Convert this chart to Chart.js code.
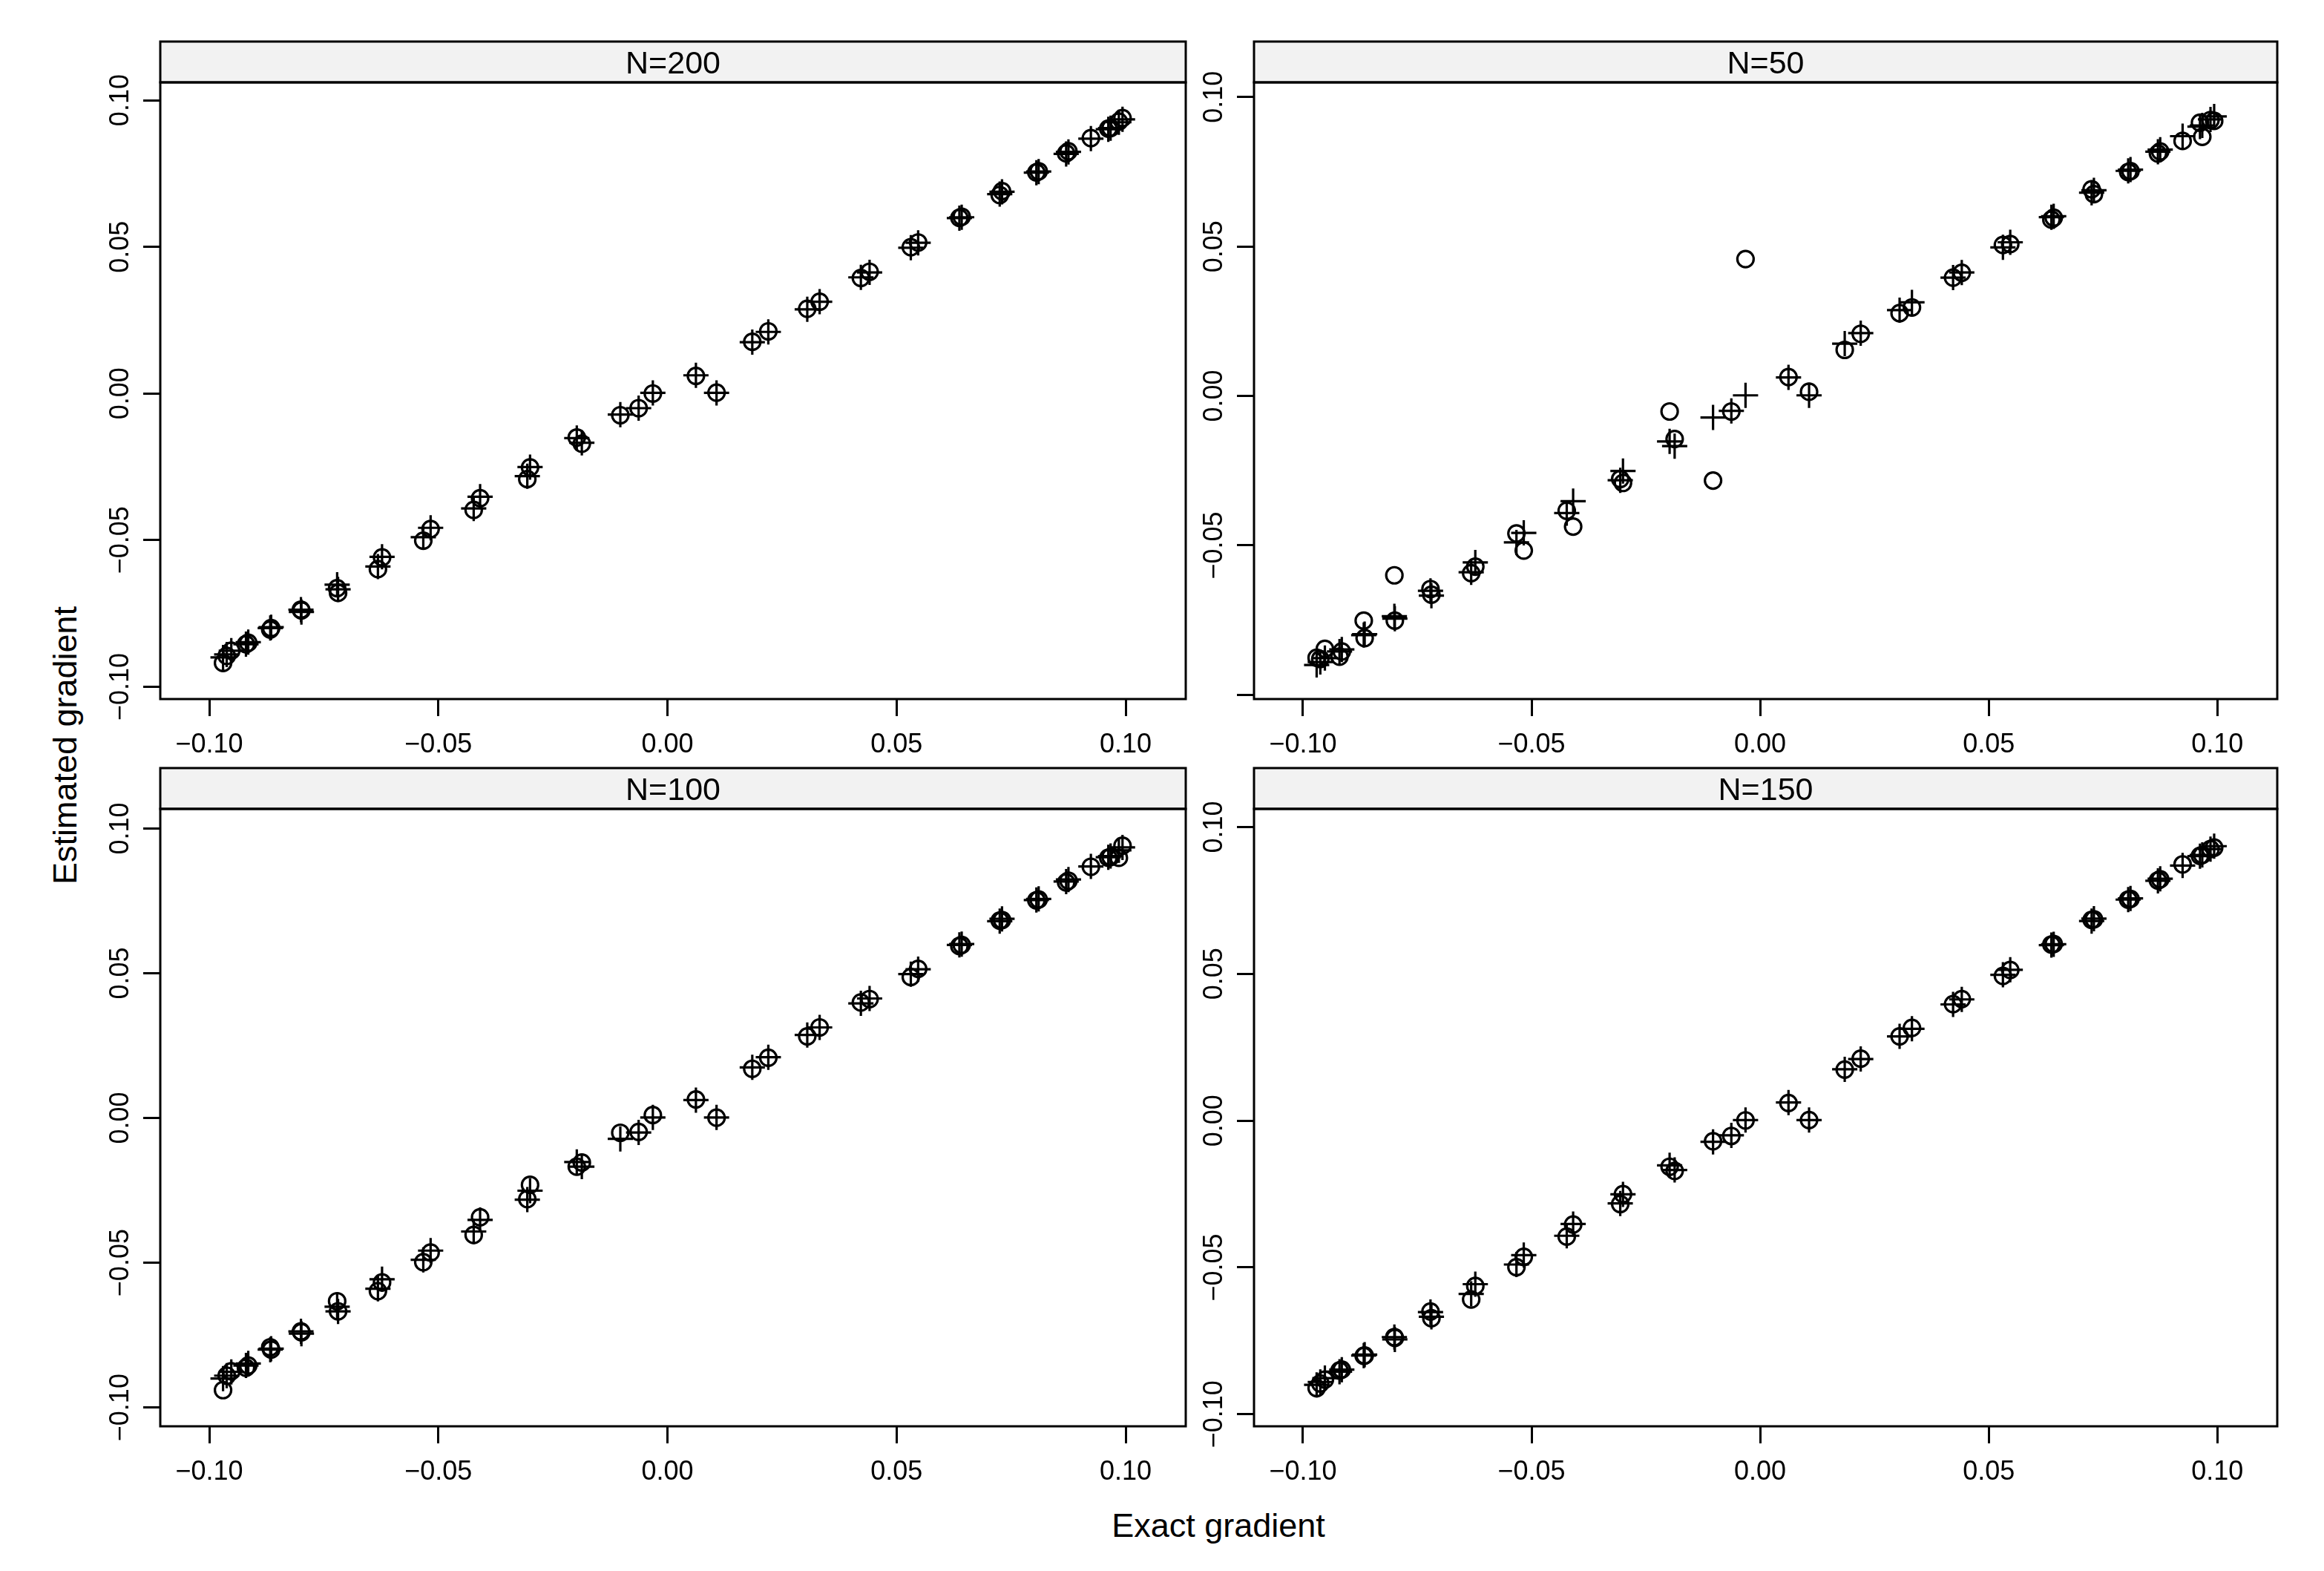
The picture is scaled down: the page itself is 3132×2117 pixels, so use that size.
<!DOCTYPE html>
<html>
<head>
<meta charset="utf-8">
<script src="https://cdn.jsdelivr.net/npm/chart.js@4.4.1/dist/chart.umd.min.js"></script>
<style>
  body { margin: 0; background: #fff; width: 3132px; height: 2117px; position: relative; overflow: hidden; }
  canvas { position: absolute; }
  .lab { position: absolute; font-family: "Liberation Sans", Arial, sans-serif; font-size: 45px; line-height: 45px; color: #000; text-align: center; white-space: nowrap; }
</style>
</head>
<body>
<div class="lab" style="left:1242px; top:2033px; width:800px;">Exact gradient</div>
<div class="lab" style="left:-313px; top:982px; width:800px; transform: rotate(-90deg);">Estimated gradient</div>

<canvas id="c200"></canvas>
<canvas id="c50"></canvas>
<canvas id="c100"></canvas>
<canvas id="c150"></canvas>

<script>
// exact gradient (shared by every panel)
const exactX = [-0.0970, -0.0962, -0.0952, -0.0920, -0.0915, -0.0867, -0.0865, -0.0800, -0.0799, -0.0721,
  -0.0719, -0.0632, -0.0623, -0.0533, -0.0517, -0.0423, -0.0409, -0.0306, -0.0300, -0.0198,
  -0.0187, -0.0103, -0.0063, -0.0032, 0.0062, 0.0107, 0.0185, 0.0220, 0.0305, 0.0332,
  0.0422, 0.0441, 0.0531, 0.0547, 0.0637, 0.0642, 0.0725, 0.0730, 0.0805, 0.0810,
  0.0870, 0.0875, 0.0924, 0.0962, 0.0967, 0.0985, 0.0993];

// "+" estimates
const plusY = [-0.0900, -0.0890, -0.0877, -0.0855, -0.0848, -0.0800, -0.0797, -0.0737, -0.0745, -0.0652,
  -0.0668, -0.0590, -0.0557, -0.0490, -0.0458, -0.0392, -0.0352, -0.0282, -0.0251, -0.0152,
  -0.0168, -0.0072, -0.0050, 0.0002, 0.0062, 0.0002, 0.0175, 0.0210, 0.0287, 0.0313,
  0.0396, 0.0413, 0.0497, 0.0514, 0.0598, 0.0601, 0.0680, 0.0688, 0.0753, 0.0757,
  0.0817, 0.0824, 0.0869, 0.0901, 0.0905, 0.0925, 0.0935];

// "o" estimates, one array per panel
const circN200 = [-0.0919, -0.0895, -0.0877, -0.0855, -0.0850, -0.0805, -0.0800, -0.0737, -0.0740, -0.0664,
  -0.0680, -0.0599, -0.0559, -0.0502, -0.0462, -0.0397, -0.0357, -0.0292, -0.0252, -0.0150,
  -0.0171, -0.0074, -0.0050, 0.0000, 0.0060, 0.0003, 0.0176, 0.0212, 0.0289, 0.0313,
  0.0394, 0.0415, 0.0499, 0.0515, 0.0599, 0.0603, 0.0677, 0.0690, 0.0754, 0.0758,
  0.0819, 0.0826, 0.0871, 0.0903, 0.0905, 0.0927, 0.0939];
const circN50 = [-0.0876, -0.0880, -0.0846, -0.0872, -0.0855, -0.0752, -0.0810, -0.0600, -0.0752, -0.0646,
  -0.0665, -0.0593, -0.0571, -0.0460, -0.0517, -0.0384, -0.0437, -0.0278, -0.0291, -0.0052,
  -0.0144, -0.0283, -0.0052, 0.0458, 0.0063, 0.0014, 0.0154, 0.0208, 0.0277, 0.0296,
  0.0396, 0.0412, 0.0505, 0.0508, 0.0590, 0.0596, 0.0691, 0.0675, 0.0749, 0.0752,
  0.0811, 0.0818, 0.0853, 0.0914, 0.0867, 0.0923, 0.0920];
const circN100 = [-0.0940, -0.0890, -0.0875, -0.0863, -0.0855, -0.0792, -0.0800, -0.0737, -0.0740, -0.0633,
  -0.0668, -0.0598, -0.0568, -0.0498, -0.0465, -0.0404, -0.0343, -0.0280, -0.0231, -0.0168,
  -0.0154, -0.0051, -0.0048, 0.0010, 0.0064, 0.0001, 0.0170, 0.0208, 0.0282, 0.0313,
  0.0399, 0.0411, 0.0487, 0.0515, 0.0594, 0.0598, 0.0682, 0.0684, 0.0752, 0.0755,
  0.0814, 0.0820, 0.0868, 0.0899, 0.0902, 0.0899, 0.0941];
const circN150 = [-0.0911, -0.0895, -0.0882, -0.0851, -0.0848, -0.0801, -0.0800, -0.0737, -0.0740, -0.0650,
  -0.0673, -0.0609, -0.0563, -0.0499, -0.0464, -0.0395, -0.0354, -0.0284, -0.0250, -0.0157,
  -0.0171, -0.0070, -0.0052, 0.0001, 0.0060, 0.0002, 0.0174, 0.0211, 0.0287, 0.0316,
  0.0397, 0.0414, 0.0493, 0.0513, 0.0600, 0.0602, 0.0684, 0.0686, 0.0753, 0.0755,
  0.0818, 0.0822, 0.0873, 0.0902, 0.0905, 0.0925, 0.0930];

const xTicks = [-0.10, -0.05, 0.00, 0.05, 0.10];
const yTicks = [-0.10, -0.05, 0.00, 0.05, 0.10];
const yLabelsN50 = [-0.05, 0.00, 0.05, 0.10];   // -0.10 has a tick but no label

const xLimits = [-0.1107, 0.1131];

// panel frames in page pixels
const panels = [
  { id: "c200", title: "N=200", circ: circN200, ylim: [-0.1042, 0.1061], labels: yTicks,     left: 216,  right: 1598, top: 111,  bottom: 942 },
  { id: "c50",  title: "N=50",  circ: circN50,  ylim: [-0.1014, 0.1049], labels: yLabelsN50, left: 1690, right: 3069, top: 111,  bottom: 942 },
  { id: "c100", title: "N=100", circ: circN100, ylim: [-0.1065, 0.1068], labels: yTicks,     left: 216,  right: 1598, top: 1090, bottom: 1922 },
  { id: "c150", title: "N=150", circ: circN150, ylim: [-0.1041, 0.1062], labels: yTicks,     left: 1690, right: 3069, top: 1090, bottom: 1922 },
];

const STRIP_H = 55;
const Y_AXIS_W = 140;
const X_AXIS_H = 95;
const PAD_TOP = 59;
const PAD_RIGHT = 6;
const FONT = '"Liberation Sans", Arial, sans-serif';

function fmt(v) {
  if (Math.abs(v) < 1e-9) return "0.00";
  return (v < 0 ? "\u2212" : "") + Math.abs(v).toFixed(2);
}

// strip, box frame and rotated y labels (lattice look)
const latticePanel = {
  id: "latticePanel",
  afterDraw(chart, args, opts) {
    const { ctx, chartArea: a } = chart;
    const w = a.right - a.left;
    ctx.save();
    ctx.fillStyle = "#f2f2f2";
    ctx.fillRect(a.left, a.top - STRIP_H, w, STRIP_H);
    ctx.lineWidth = 3;
    ctx.strokeStyle = "#000";
    ctx.strokeRect(a.left, a.top - STRIP_H, w, STRIP_H);
    ctx.strokeRect(a.left, a.top, w, a.bottom - a.top);

    ctx.fillStyle = "#000";
    ctx.font = "43px " + FONT;
    ctx.textAlign = "center";
    ctx.textBaseline = "alphabetic";
    ctx.fillText(opts.title, (a.left + a.right) / 2, a.top - 12);

    const ys = chart.scales.y;
    ctx.font = "36px " + FONT;
    opts.labels.forEach(v => {
      const py = ys.getPixelForValue(v);
      ctx.save();
      ctx.translate(a.left - 43, py);
      ctx.rotate(-Math.PI / 2);
      ctx.fillText(fmt(v), 0, 0);
      ctx.restore();
    });
    ctx.restore();
  }
};

panels.forEach(p => {
  const cv = document.getElementById(p.id);
  const W = (p.right - p.left) + Y_AXIS_W + PAD_RIGHT;
  const H = (p.bottom - p.top) + PAD_TOP + X_AXIS_H;
  cv.width = W;
  cv.height = H;
  cv.style.left = (p.left - Y_AXIS_W) + "px";
  cv.style.top = (p.top - PAD_TOP) + "px";

  new Chart(cv, {
    type: "scatter",
    data: {
      datasets: [
        {
          label: "estimate",
          data: exactX.map((x, i) => ({ x: x, y: p.circ[i] })),
          pointStyle: "circle",
          pointRadius: 11,
          pointBorderWidth: 3.2,
          pointBorderColor: "#000",
          pointBackgroundColor: "rgba(0,0,0,0)",
        },
        {
          label: "reference",
          data: exactX.map((x, i) => ({ x: x, y: plusY[i] })),
          pointStyle: "cross",
          pointRadius: 17,
          pointBorderWidth: 3.2,
          pointBorderColor: "#000",
          pointBackgroundColor: "#000",
        },
      ],
    },
    options: {
      responsive: false,
      animation: false,
      devicePixelRatio: 1,
      layout: { autoPadding: false, padding: { top: PAD_TOP, right: PAD_RIGHT, left: 0, bottom: 0 } },
      plugins: {
        legend: { display: false },
        tooltip: { enabled: false },
        latticePanel: { title: p.title, labels: p.labels },
      },
      scales: {
        x: {
          type: "linear",
          position: "bottom",
          min: xLimits[0],
          max: xLimits[1],
          afterBuildTicks: s => { s.ticks = xTicks.map(v => ({ value: v })); },
          afterFit: s => { s.height = X_AXIS_H; },
          border: { display: false },
          grid: { drawOnChartArea: false, color: "#000", lineWidth: 3, tickLength: 23 },
          ticks: {
            color: "#000",
            font: { family: FONT, size: 36 },
            padding: 17,
            autoSkip: false,
            minRotation: 0,
            maxRotation: 0,
            callback: v => fmt(v),
          },
        },
        y: {
          type: "linear",
          position: "left",
          min: p.ylim[0],
          max: p.ylim[1],
          afterBuildTicks: s => { s.ticks = yTicks.map(v => ({ value: v })); },
          afterFit: s => { s.width = Y_AXIS_W; },
          border: { display: false },
          grid: { drawOnChartArea: false, color: "#000", lineWidth: 3, tickLength: 23 },
          ticks: { display: false },
        },
      },
    },
    plugins: [latticePanel],
  });
});
</script>
</body>
</html>
